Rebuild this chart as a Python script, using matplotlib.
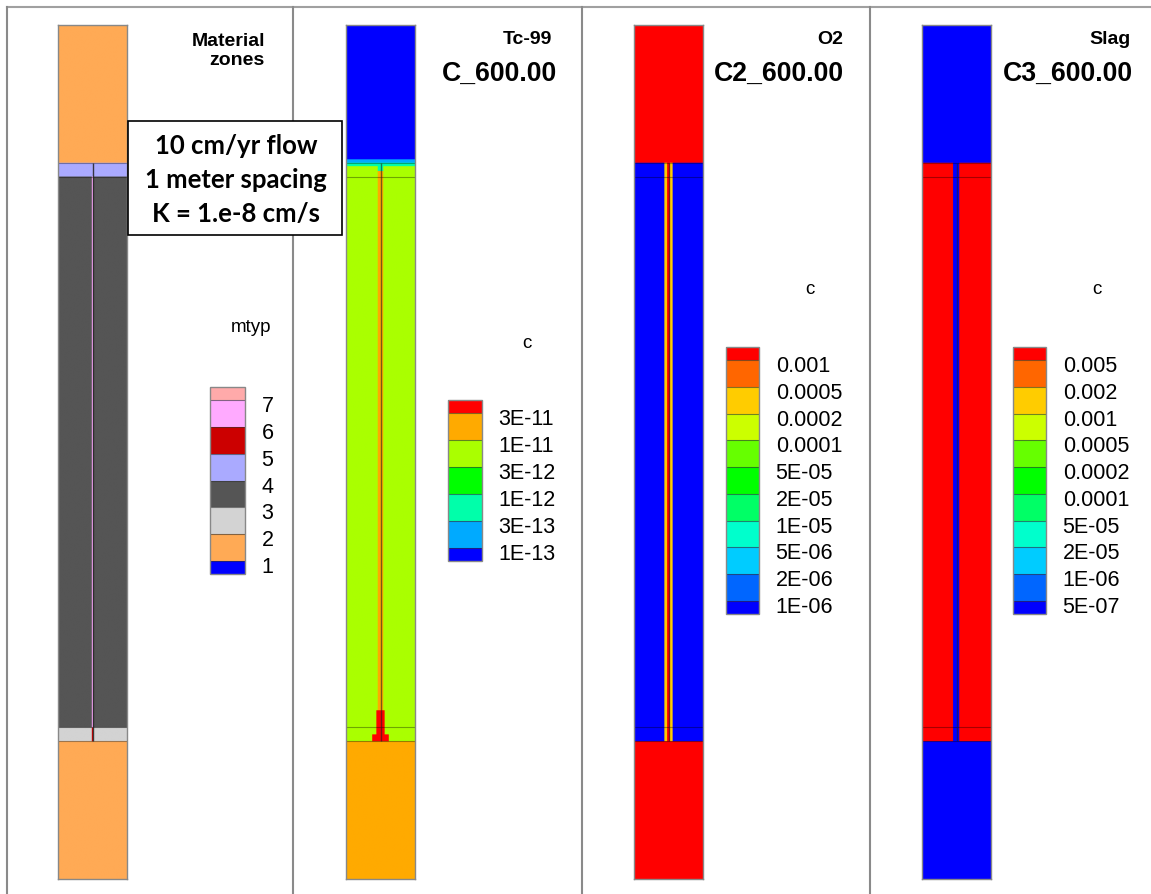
import numpy as np
import matplotlib
matplotlib.use('Agg')
import matplotlib.pyplot as plt
import matplotlib.transforms as mtransforms
from matplotlib.colors import ListedColormap, BoundaryNorm
from matplotlib.cm import ScalarMappable
from matplotlib.patches import Rectangle
from matplotlib.lines import Line2D

plt.rcParams['font.family'] = ['Liberation Sans', 'DejaVu Sans']

W, H = 1151, 894

# column geometry (m): top cover, upper layer, waste, lower layer, bottom cover
LAYER_THICK = [2.0, 0.2, 8.0, 0.2, 2.0]
COL_WIDTH = 1.0
CELL = 0.01

# material zones
MTYP_LAYERS = [1, 4, 3, 2, 1]
MTYP_FRAC = [None, 4, 6, 5, None]
MTYP_FRAC_W = 0.02
MTYP_LEVELS = [1, 2, 3, 4, 5, 6, 7]
MTYP_LABELS = ['1', '2', '3', '4', '5', '6', '7']
MTYP_COLORS = ['#0000FF', '#FFAA55', '#D3D3D3', '#555555', '#AAAAFF',
               '#CC0000', '#FFAAFF', '#FFAAAA']

# Tc-99 concentration at 600 yr
TC_LAYERS = [5e-14, 5e-12, 5e-12, 5e-12, 2e-11]
TC_FRAC = [None, 2e-11, 2e-11, 5e-11, None]
TC_FRAC_W = 0.08
# extra patches: (z top, z bottom, half width, value)
TC_PATCHES = [(1.95, 2.0, 0.5, 2e-13), (2.0, 2.05, 0.5, 6e-13),
              (2.0, 2.12, 0.04, 6e-13), (9.95, 10.4, 0.06, 5e-11),
              (10.3, 10.4, 0.12, 5e-11)]
TC_LEVELS = [1e-13, 3e-13, 1e-12, 3e-12, 1e-11, 3e-11]
TC_LABELS = ['1E-13', '3E-13', '1E-12', '3E-12', '1E-11', '3E-11']
TC_COLORS = ['#0000FF', '#00AAFF', '#00FFAA', '#00FF00', '#AAFF00',
             '#FFAA00', '#FF0000']

# O2
O2_LAYERS = [2e-3, 5e-7, 5e-7, 5e-7, 2e-3]
O2_FRAC = [None, 4e-4, 4e-4, 4e-4, None]
O2_FRAC_W = 0.12
O2_CORE = [None, 2e-3, 2e-3, 2e-3, None]
O2_CORE_W = 0.04
O2_LEVELS = [1e-6, 2e-6, 5e-6, 1e-5, 2e-5, 5e-5, 1e-4, 2e-4, 5e-4, 1e-3]
O2_LABELS = ['1E-06', '2E-06', '5E-06', '1E-05', '2E-05', '5E-05',
             '0.0001', '0.0002', '0.0005', '0.001']

# Slag
SLAG_LAYERS = [2e-7, 1e-2, 1e-2, 1e-2, 2e-7]
SLAG_FRAC = [None, 2e-7, 2e-7, 2e-7, None]
SLAG_FRAC_W = 0.09
SLAG_LEVELS = [5e-7, 1e-6, 2e-5, 5e-5, 1e-4, 2e-4, 5e-4, 1e-3, 2e-3, 5e-3]
SLAG_LABELS = ['5E-07', '1E-06', '2E-05', '5E-05', '0.0001', '0.0002',
               '0.0005', '0.001', '0.002', '0.005']

C11_COLORS = ['#0000FF', '#0066FF', '#00CCFF', '#00FFCC', '#00FF66', '#00FF00',
              '#66FF00', '#CCFF00', '#FFCC00', '#FF6600', '#FF0000']

bounds = np.concatenate([[0], np.cumsum(LAYER_THICK)])
total = bounds[-1]
xc = np.arange(-COL_WIDTH / 2 + CELL / 2, COL_WIDTH / 2, CELL)
zc = np.arange(CELL / 2, total, CELL)


def build_field(layers, frac=None, frac_w=0, core=None, core_w=0, patches=()):
    f = np.zeros((len(zc), len(xc)))
    for i, v in enumerate(layers):
        rows = (zc >= bounds[i]) & (zc < bounds[i + 1])
        f[rows, :] = v
        if frac is not None and frac[i] is not None:
            f[np.ix_(rows, np.abs(xc) < frac_w / 2)] = frac[i]
        if core is not None and core[i] is not None:
            f[np.ix_(rows, np.abs(xc) < core_w / 2)] = core[i]
    for z0, z1, hw, v in patches:
        rows = (zc >= z0) & (zc < z1)
        f[np.ix_(rows, np.abs(xc) < hw)] = v
    return f


def frac_px(x0, y0, x1, y1):
    return [x0 / W, 1 - y1 / H, (x1 - x0) / W, (y1 - y0) / H]


fig = plt.figure(figsize=(W / 100, H / 100), dpi=100)

# panel frames
frame = '#8a8a8a'
fig.add_artist(Line2D([7 / W, 1], [1 - 7 / H] * 2, color='#a0a0a0', lw=1.5))
for xp in [7, 293, 582, 870]:
    fig.add_artist(Line2D([xp / W] * 2, [0, 1 - 7 / H], color=frame, lw=1.5))

panels = [
    dict(x=58, field=build_field(MTYP_LAYERS, MTYP_FRAC, MTYP_FRAC_W),
         levels=MTYP_LEVELS, labels=MTYP_LABELS, colors=MTYP_COLORS,
         cbar=(210, 387, 245, 574), var='mtyp', var_xy=(251, 327),
         title='Material\nzones', title_x=265, sub=None, frac_alpha=0.85),
    dict(x=346, field=build_field(TC_LAYERS, TC_FRAC, TC_FRAC_W, patches=TC_PATCHES),
         levels=TC_LEVELS, labels=TC_LABELS, colors=TC_COLORS,
         cbar=(448, 400, 482, 561), var='c', var_xy=(527, 343),
         title='Tc-99', title_x=552, sub='C_600.00', sub_x=557, frac_alpha=0.6),
    dict(x=634, field=build_field(O2_LAYERS, O2_FRAC, O2_FRAC_W, O2_CORE, O2_CORE_W),
         levels=O2_LEVELS, labels=O2_LABELS, colors=C11_COLORS,
         cbar=(726, 347, 759, 614), var='c', var_xy=(810, 290),
         title='O2', title_x=843, sub='C2_600.00', sub_x=844, frac_alpha=0.6),
    dict(x=922, field=build_field(SLAG_LAYERS, SLAG_FRAC, SLAG_FRAC_W),
         levels=SLAG_LEVELS, labels=SLAG_LABELS, colors=C11_COLORS,
         cbar=(1013, 347, 1046, 614), var='c', var_xy=(1097, 290),
         title='Slag', title_x=1131, sub='C3_600.00', sub_x=1133, frac_alpha=0.6),
]

cbars = []
for p in panels:
    cmap = ListedColormap(p['colors'])
    norm = BoundaryNorm(p['levels'], ncolors=len(p['colors']), extend='both')

    ax = fig.add_axes(frac_px(p['x'], 25, p['x'] + 69, 879))
    ax.imshow(p['field'], extent=(-COL_WIDTH / 2, COL_WIDTH / 2, total, 0),
              cmap=cmap, norm=norm, aspect='auto',
              interpolation='antialiased', interpolation_stage='rgba')
    ax.set_xlim(-COL_WIDTH / 2, COL_WIDTH / 2)
    ax.set_ylim(total, 0)
    # mesh lines at zone boundaries and along the fracture
    ax.hlines(bounds[1:-1], -COL_WIDTH / 2, COL_WIDTH / 2, color='k', lw=0.8, alpha=0.35)
    ax.vlines(0, bounds[1], bounds[4], color='#222222', lw=1.0, alpha=p['frac_alpha'])
    ax.set_xticks([])
    ax.set_yticks([])
    for s in ax.spines.values():
        s.set_color('#888888')
        s.set_linewidth(1.0)

    n_int = len(p['levels']) - 1
    cax = fig.add_axes(frac_px(*p['cbar']))
    cb = fig.colorbar(ScalarMappable(norm=norm, cmap=cmap), cax=cax,
                      extend='both', extendrect=True, extendfrac=0.5 / n_int,
                      drawedges=True)
    cb.set_ticks(p['levels'], labels=p['labels'])
    cb.ax.tick_params(length=0, labelsize=15.5, pad=12)
    cb.outline.set_edgecolor('#888888')
    cb.outline.set_linewidth(1.0)
    cb.dividers.set_color('#333333')
    cb.dividers.set_alpha(0.6)
    cb.dividers.set_linewidth(0.8)
    cbars.append(cb)

    vx, vy = p['var_xy']
    fig.text(vx / W, 1 - vy / H, p['var'], ha='center', va='center', fontsize=13.5)
    fig.text(p['title_x'] / W, 1 - 51 / H if p['sub'] is None else 1 - 40 / H,
             p['title'], ha='right', va='center', fontsize=14,
             fontweight='bold', multialignment='right', linespacing=1.12)
    if p['sub']:
        fig.text(p['sub_x'] / W, 1 - 74 / H, p['sub'], ha='right', va='center',
                 fontsize=19.2, fontweight='bold')

# annotation box
fig.add_artist(Rectangle((128 / W, 1 - 235 / H), 214 / W, 114 / H,
                         transform=fig.transFigure, facecolor='white',
                         edgecolor='black', lw=1.2, zorder=5))
fig.text(236 / W, 1 - 180 / H, '10 cm/yr flow\n1 meter spacing\nK = 1.e-8 cm/s',
         ha='center', va='center', fontsize=18.5, family='Lato',
         fontweight='bold', linespacing=1.52, zorder=6)

# nudge colorbar labels slightly below their level lines
fig.canvas.draw()
shift = mtransforms.ScaledTranslation(0, -4 / 100, fig.dpi_scale_trans)
for cb in cbars:
    for t in cb.ax.get_yticklabels():
        t.set_transform(t.get_transform() + shift)

fig.savefig('out.png', dpi=100)
